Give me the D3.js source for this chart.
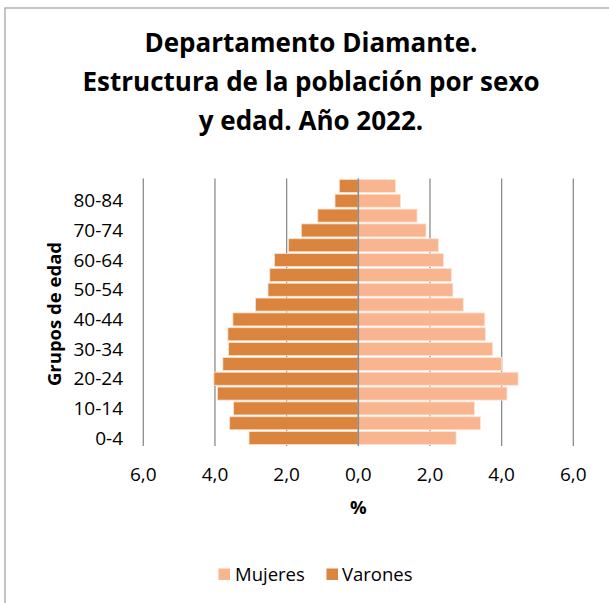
<!DOCTYPE html>
<html>
<head>
<meta charset="utf-8">
<script src="https://cdn.jsdelivr.net/npm/d3@7/dist/d3.min.js"></script>
<style>
  html, body { margin: 0; padding: 0; background: #fff; }
  svg { display: block; }
  text { font-family: "Open Sans", Lato, sans-serif; fill: #000; }
</style>
</head>
<body>
<svg id="chart" width="609" height="603"></svg>
<script>
// ---- data ----
const ageGroups = ["0-4","5-9","10-14","15-19","20-24","25-29","30-34","35-39","40-44","45-49","50-54","55-59","60-64","65-69","70-74","75-79","80-84","85+"];
const mujeres  = [2.73, 3.41, 3.24, 4.15, 4.46, 4.00, 3.75, 3.55, 3.53, 2.93, 2.64, 2.60, 2.38, 2.24, 1.89, 1.64, 1.18, 1.04];
const varones  = [3.05, 3.59, 3.48, 3.93, 4.03, 3.78, 3.62, 3.64, 3.50, 2.87, 2.52, 2.47, 2.34, 1.95, 1.59, 1.13, 0.65, 0.53];
const xTicks   = [-6, -4, -2, 0, 2, 4, 6];
const yLabels  = ["0-4","10-14","20-24","30-34","40-44","50-54","60-64","70-74","80-84"];
const titleLines = ["Departamento Diamante.", "Estructura de la población por sexo", "y edad. Año 2022."];
const seriesNames = ["Mujeres", "Varones"];
const colors = { Mujeres: "#F8B590", Varones: "#DB843D" };

const svg = d3.select("#chart");

// frame
svg.append("rect").attr("x", 5).attr("y", 8).attr("width", 620).attr("height", 620)
  .attr("fill", "#fff").attr("stroke", "#a6a6a6").attr("stroke-width", 1.3);

// title
svg.append("g").selectAll("text").data(titleLines).join("text")
  .attr("x", 311).attr("y", (d, i) => 52 + i * 39)
  .attr("text-anchor", "middle").attr("font-weight", "bold").attr("font-size", 26)
  .text(d => d);

// scales
const x = d3.scaleLinear().domain([-6, 6]).range([143.3, 573.3]);
const y = d3.scaleBand().domain(ageGroups).range([445.5, 178.5]).paddingInner(0.12).paddingOuter(0.06);
const plotTop = 178.5, plotBottom = 446;

// gridlines
svg.append("g").selectAll("line").data(xTicks.filter(t => t !== 0)).join("line")
  .attr("x1", d => x(d)).attr("x2", d => x(d))
  .attr("y1", plotTop).attr("y2", plotBottom)
  .attr("stroke", "#8c8c8c").attr("stroke-width", 1.3);

// bars
const rows = ageGroups.map((g, i) => ({ g, m: mujeres[i], v: varones[i] }));
const bars = svg.append("g");
bars.selectAll("rect.v").data(rows).join("rect").attr("class", "v")
  .attr("x", d => x(-d.v)).attr("width", d => x(0) - x(-d.v))
  .attr("y", d => y(d.g)).attr("height", y.bandwidth())
  .attr("fill", colors.Varones).attr("stroke", "#fbe3d0").attr("stroke-width", 0.8);
bars.selectAll("rect.m").data(rows).join("rect").attr("class", "m")
  .attr("x", x(0)).attr("width", d => x(d.m) - x(0))
  .attr("y", d => y(d.g)).attr("height", y.bandwidth())
  .attr("fill", colors.Mujeres).attr("stroke", "#fde6d8").attr("stroke-width", 0.8);

// zero axis line
svg.append("line").attr("x1", x(0)).attr("x2", x(0)).attr("y1", plotTop).attr("y2", plotBottom)
  .attr("stroke", "#8c8c8c").attr("stroke-width", 1.6);

// x tick labels
svg.append("g").selectAll("text").data(xTicks).join("text")
  .attr("x", d => x(d)).attr("y", 481)
  .attr("text-anchor", "middle").attr("font-size", 19)
  .text(d => d3.format(".1f")(Math.abs(d)).replace(".", ","));

// y tick labels
svg.append("g").selectAll("text").data(yLabels).join("text")
  .attr("x", 123).attr("y", d => y(d) + y.bandwidth() / 2)
  .attr("dy", "0.35em").attr("text-anchor", "end").attr("font-size", 19)
  .text(d => d);

// axis titles
svg.append("text").attr("x", x(0)).attr("y", 514).attr("text-anchor", "middle")
  .attr("font-weight", "bold").attr("font-size", 18.5).text("%");
svg.append("text").attr("transform", "translate(61,314) rotate(-90)").attr("text-anchor", "middle")
  .attr("font-weight", "bold").attr("font-size", 18.5).text("Grupos de edad");

// legend
const legendPos = [{ name: seriesNames[0], sx: 218.5, tx: 235 }, { name: seriesNames[1], sx: 326.5, tx: 342 }];
const lg = svg.append("g");
lg.selectAll("rect").data(legendPos).join("rect")
  .attr("x", d => d.sx).attr("y", 568.5).attr("width", 11.5).attr("height", 11.5)
  .attr("fill", d => colors[d.name]);
lg.selectAll("text").data(legendPos).join("text")
  .attr("x", d => d.tx).attr("y", 581).attr("font-size", 18.5)
  .text(d => d.name);
</script>
</body>
</html>
